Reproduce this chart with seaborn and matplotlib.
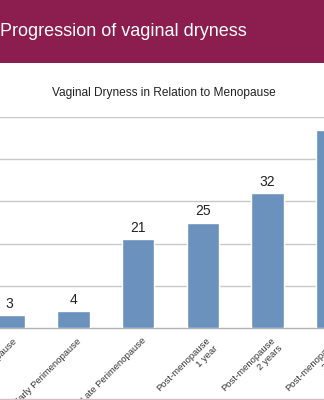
import matplotlib
matplotlib.use("Agg")
import matplotlib.pyplot as plt
import seaborn as sns
from matplotlib.patches import Rectangle
from matplotlib.lines import Line2D
from matplotlib.transforms import ScaledTranslation

categories = ["Premenopause", "Early Perimenopause", "Late Perimenopause",
              "Post-menopause\n1 year", "Post-menopause\n2 years", "Post-menopause\n3 years"]
values = [3, 4, 21, 25, 32, 47]
banner_title = "Progression of vaginal dryness"
chart_title = "Vaginal Dryness in Relation to Menopause"

sns.set_theme(style="white")
plt.rcParams["font.family"] = ["Liberation Sans", "DejaVu Sans"]

W, H = 324, 400
fig = plt.figure(figsize=(W / 100, H / 100), dpi=100)
fig.patch.set_facecolor("white")

# banner
fig.patches.append(Rectangle((0, 1 - 63 / H), 1, 63 / H, transform=fig.transFigure,
                             facecolor="#8B1D4F", edgecolor="none", zorder=0))
fig.text(0 / W, 1 - 31 / H, banner_title, color="white", fontsize=13,
         ha="left", va="center")

fig.text(164 / W, 1 - 93 / H, chart_title, color="#222222", fontsize=8.6,
         ha="center", va="center")

# axes extend beyond the figure (the reference is a crop)
left_px = -23.3
width_px = 387.6
ax = fig.add_axes([left_px / W, 72 / H, width_px / W, 211 / H])
ax.set_facecolor("none")
sns.barplot(x=categories, y=values, color="#6A92BD", saturation=1, width=0.5, ax=ax, zorder=3)
ax.set_xlim(-0.5, 5.5)
ax.set_ylim(0, 50)
ax.set_yticks([10, 20, 30, 40, 50])
ax.yaxis.grid(True, color="#C8C8C8", linewidth=1)
ax.set_axisbelow(True)
ax.tick_params(axis="y", left=False, labelleft=False)
ax.tick_params(axis="x", bottom=False, pad=0)
for s in ["left", "right", "top"]:
    ax.spines[s].set_visible(False)
ax.spines["bottom"].set_color("#B0B0B0")
ax.spines["bottom"].set_linewidth(1)
ax.set_xlabel("")
ax.set_ylabel("")
off = ScaledTranslation(3 / 100, 0 / 100, fig.dpi_scale_trans)
for lab in ax.get_xticklabels():
    lab.set_rotation(45)
    lab.set_ha("right")
    lab.set_va("top")
    lab.set_rotation_mode("anchor")
    lab.set_fontsize(6.8)
    lab.set_color("#333333")
    lab.set_multialignment("right")
    lab.set_transform(lab.get_transform() + off)
for c in ax.containers:
    ax.bar_label(c, labels=[str(v) for v in values], padding=3, fontsize=10, color="#222222")

fig.lines.append(Line2D([0, 1], [1.5 / H, 1.5 / H], transform=fig.transFigure,
                        color="#D3BCC5", linewidth=1))

fig.savefig("out.png", dpi=100)
